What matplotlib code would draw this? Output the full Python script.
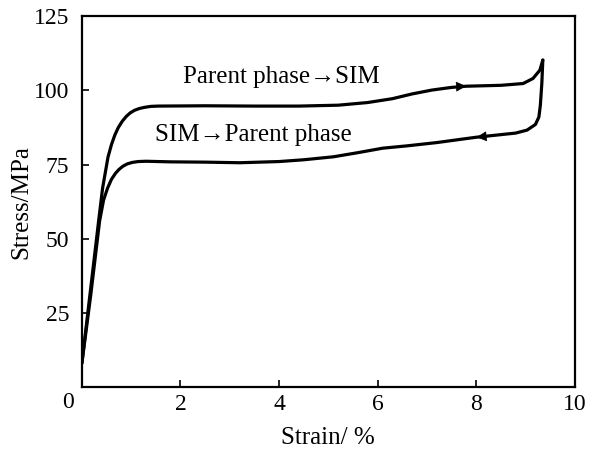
import matplotlib
matplotlib.use("Agg")
import matplotlib.pyplot as plt

# loading curve: parent phase -> SIM
load_strain = [0.0, 0.17, 0.34, 0.42, 0.53, 0.6, 0.67, 0.74, 0.82, 0.9, 0.98, 1.07, 1.17,
               1.28, 1.4, 1.55, 2.5, 3.5, 4.4, 5.2, 5.8, 6.3, 6.7, 7.1, 7.5, 7.8, 8.5,
               8.95, 9.15, 9.29, 9.35]
load_stress = [8, 32, 56, 67, 77.5, 81.7, 85.0, 87.5, 89.6, 91.2, 92.4, 93.3, 93.9,
               94.3, 94.6, 94.7, 94.8, 94.7, 94.7, 95.0, 95.9, 97.2, 98.8, 100.1, 101.0, 101.4, 101.7,
               102.3, 104.0, 106.8, 110.2]

# unloading curve: SIM -> parent phase
unload_strain = [9.35, 9.33, 9.3, 9.27, 9.2, 9.03, 8.8, 8.4, 8.0, 7.6, 7.2, 6.6, 6.1,
                 5.6, 5.1, 4.5, 4.0, 3.2, 2.5, 1.8, 1.3, 1.14, 1.02, 0.92, 0.83, 0.75,
                 0.68, 0.6, 0.52, 0.44, 0.36, 0.18, 0.0]
unload_stress = [110.2, 102.4, 95, 91, 88.5, 86.6, 85.6, 84.9, 84.2, 83.3, 82.4, 81.3, 80.5,
                 79.0, 77.6, 76.6, 76.0, 75.6, 75.8, 75.9, 76.1, 76.0, 75.7, 75.2, 74.4, 73.3,
                 72.0, 70.0, 67.0, 63.0, 56, 31, 8]

# direction arrows (tail, head)
arrow_tails = [(7.55, 101.2), (8.25, 84.6)]
arrow_heads = [(7.85, 101.5), (7.95, 84.1)]

labels = ["Parent phase\u2192SIM", "SIM\u2192Parent phase"]
label_pos = [(2.05, 104.4), (1.48, 84.9)]

plt.rcParams['font.family'] = ['Liberation Serif', 'DejaVu Serif']

fig = plt.figure(figsize=(5.89, 4.5), dpi=100)
ax = fig.add_axes([0.139, 0.14, 0.837, 0.824])

ax.plot(load_strain, load_stress, color='black', lw=2.3, solid_capstyle='round', solid_joinstyle='round')
ax.plot(unload_strain, unload_stress, color='black', lw=2.3, solid_capstyle='round', solid_joinstyle='round')

for t, h in zip(arrow_tails, arrow_heads):
    ax.annotate('', xy=h, xytext=t,
                arrowprops=dict(arrowstyle='-|>', color='black', lw=0.5, mutation_scale=16))

for txt, (x, y) in zip(labels, label_pos):
    ax.text(x, y, txt, fontsize=18, va='center', ha='left')

ax.set_xlim(0, 10)
ax.set_ylim(0, 125)
ax.set_xticks([2, 4, 6, 8, 10])
ax.set_yticks([25, 50, 75, 100, 125])
ax.tick_params(direction='in', length=5, width=1.2, labelsize=17)
ax.tick_params(axis='x', pad=5)
ax.tick_params(axis='y', pad=9)
ax.annotate('0', xy=(0, 0), xytext=(-10, -11), textcoords='offset points',
            ha='center', va='center', fontsize=17)

for s in ax.spines.values():
    s.set_linewidth(1.6)

ax.set_xlabel("Strain/ %", fontsize=18, labelpad=9)
ax.set_ylabel("Stress/MPa", fontsize=18, labelpad=1)

fig.savefig("out.png", dpi=100)
